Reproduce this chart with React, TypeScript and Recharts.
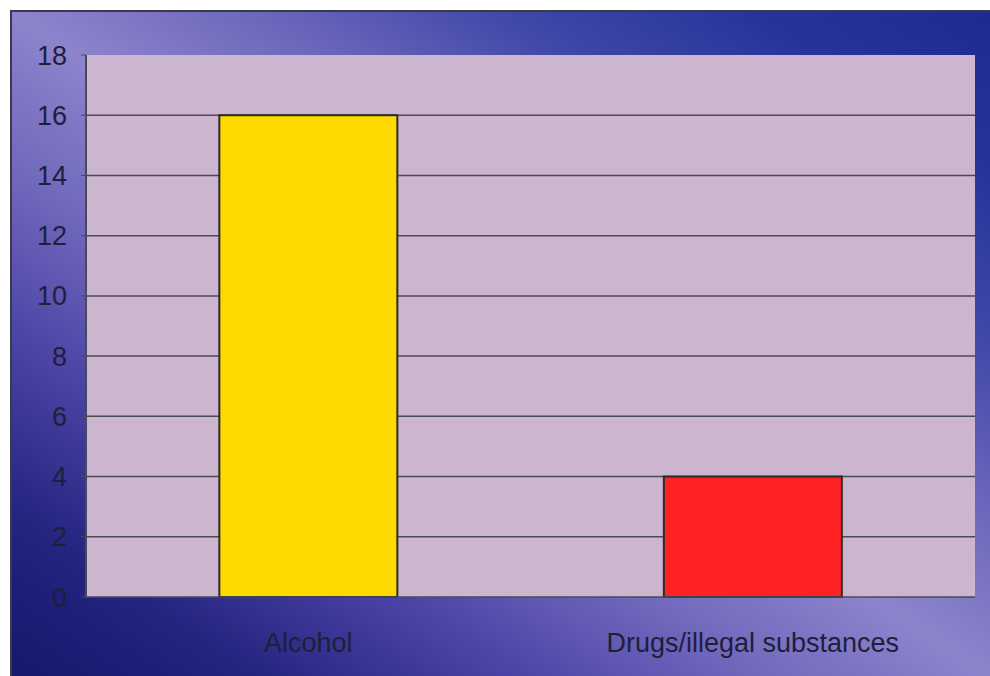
import { Bar, BarChart, CartesianGrid, XAxis, YAxis } from "recharts";

const categories = ["Alcohol", "Drugs/illegal substances"];
const counts = [16, 4];
const yTicks = [0, 2, 4, 6, 8, 10, 12, 14, 16, 18];
const gridValues = [2, 4, 6, 8, 10, 12, 14, 16];

const data = categories.map((name, i) => ({ name, count: counts[i] }));
const barColors = ["#ffda00", "#ff2222"];

export default function App() {
  return (
    <div
      style={{
        position: "fixed",
        left: 0,
        top: 0,
        width: 990,
        height: 676,
        overflow: "hidden",
        background: "#ffffff",
        fontFamily: "'Liberation Sans', Arial, sans-serif",
      }}
    >
      <div
        style={{
          position: "absolute",
          left: 10,
          top: 10,
          right: 0,
          bottom: 0,
          boxSizing: "border-box",
          borderTop: "2px solid #3a3a4a",
          borderLeft: "2px solid #3a3a4a",
          background:
            "linear-gradient(to top right, #16186c 0%, #22247e 12%, #4a42a4 25%, #7068bc 38%, #8c84cc 50%, #6e68bc 62%, #4048a8 75%, #26349a 88%, #1c2a92 100%)",
        }}
      />
      <div style={{ position: "absolute", left: 10, top: 10 }}>
        <BarChart
          width={978}
          height={663}
          data={data}
          margin={{ top: 45, right: 13, left: 0, bottom: 0 }}
          barCategoryGap="30%"
        >
          <CartesianGrid
            vertical={false}
            horizontalValues={gridValues}
            stroke="#4a4a55"
            strokeWidth={1.5}
            fill="#cbb5cf"
            fillOpacity={1}
          />
          <XAxis
            dataKey="name"
            height={76}
            tickLine={false}
            axisLine={{ stroke: "#4a4a55", strokeWidth: 1.5 }}
            tickMargin={30}
            tick={{ fontSize: 27, fill: "#1f1f3a" }}
          />
          <YAxis
            width={76}
            domain={[0, 18]}
            ticks={yTicks}
            interval={0}
            tickSize={5}
            tickMargin={14}
            axisLine={{ stroke: "#4a4a55", strokeWidth: 2 }}
            tickLine={{ stroke: "#4a4a55" }}
            tick={{ fontSize: 27, fill: "#1f1f3a" }}
          />
          <Bar
            dataKey="count"
            isAnimationActive={false}
            stroke="#2e2a2a"
            strokeWidth={2}
            shape={(props: any) => (
              <rect
                x={props.x}
                y={props.y}
                width={props.width}
                height={props.height}
                fill={barColors[props.index]}
                stroke="#2e2a2a"
                strokeWidth={2}
              />
            )}
          />
        </BarChart>
      </div>
    </div>
  );
}
